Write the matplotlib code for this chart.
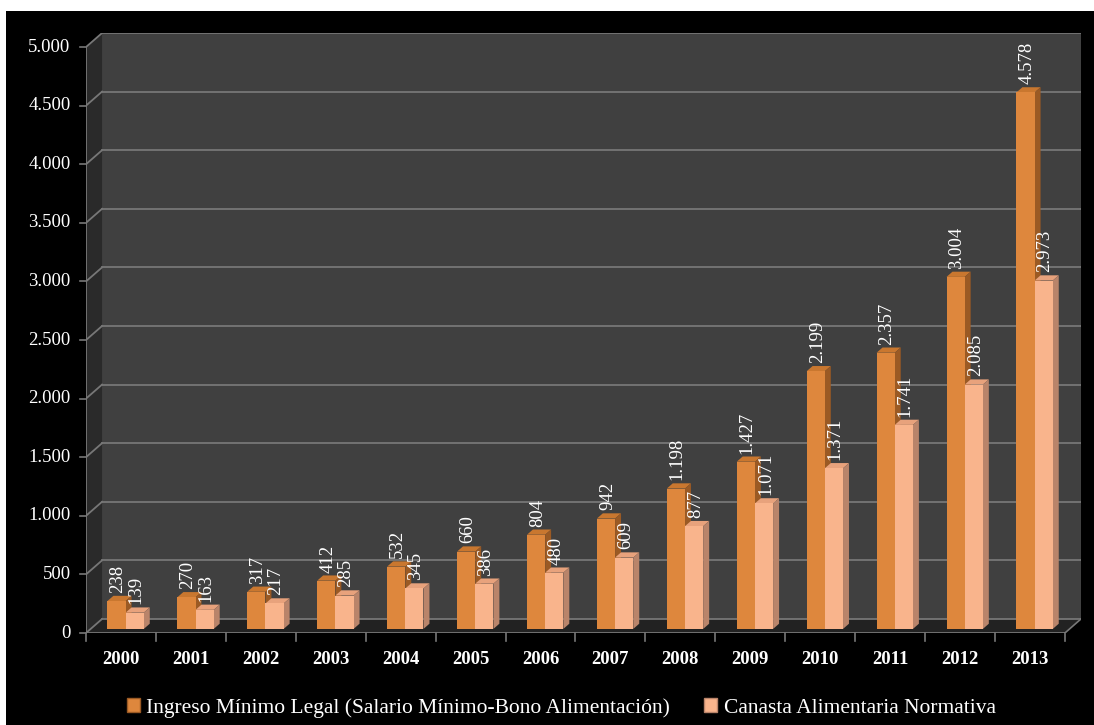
import matplotlib
matplotlib.use('Agg')
import matplotlib.pyplot as plt
from matplotlib.patches import Polygon, Rectangle, Patch
import numpy as np

plt.rcParams['font.family'] = ['Liberation Serif', 'DejaVu Serif']

# data
years = ['2000', '2001', '2002', '2003', '2004', '2005', '2006',
         '2007', '2008', '2009', '2010', '2011', '2012', '2013']
ingreso = [238, 270, 317, 412, 532, 660, 804, 942, 1198, 1427, 2199, 2357, 3004, 4578]
canasta = [139, 163, 217, 285, 345, 386, 480, 609, 877, 1071, 1371, 1741, 2085, 2973]
yticks = list(range(0, 5001, 500))
series_names = ['Ingreso Mínimo Legal (Salario Mínimo-Bono Alimentación)',
                'Canasta Alimentaria Normativa']

# colours
c_or = '#DE873D'
c_or_top = '#C9772F'
c_or_side = '#9B5A24'
c_pe = '#F9B48C'
c_pe_top = '#E8A27C'
c_pe_side = '#B9846A'


def fmt(v):
    return f'{v:,}'.replace(',', '.')


fig = plt.figure(figsize=(10.94, 7.25), dpi=100, facecolor='white')
fig.patches.append(Rectangle((6 / 1094, 0), 1, 1 - 11 / 725, transform=fig.transFigure,
                             facecolor='black', edgecolor='none', zorder=-10))

n = len(years)
ymax = 5000
dx = 0.23     # depth offset in x units
dy = 120      # depth offset in y units

ax = fig.add_axes([86 / 1094, 1 - 633 / 725, 995 / 1094, 600 / 725])
ax.set_xlim(0, n + dx)
ax.set_ylim(0, ymax + dy)
ax.axis('off')

# walls
ax.add_patch(Polygon([(dx, dy), (n + dx, dy), (n + dx, ymax + dy), (dx, ymax + dy)],
                     closed=True, facecolor='#404040', edgecolor='none', zorder=1))
ax.add_patch(Polygon([(0, 0), (dx, dy), (dx, ymax + dy), (0, ymax)],
                     closed=True, facecolor='#2a2a2a', edgecolor='none', zorder=1))
ax.add_patch(Polygon([(0, 0), (n, 0), (n + dx, dy), (dx, dy)],
                     closed=True, facecolor='#222222', edgecolor='none', zorder=1))

grid_c = '#777777'
for v in yticks:
    ax.plot([dx, n + dx], [v + dy, v + dy], color=grid_c, lw=1.3, zorder=2)
    ax.plot([0, dx], [v, v + dy], color=grid_c, lw=1.3, zorder=2)
    ax.plot([-0.08, 0], [v, v], color=grid_c, lw=1.2, zorder=2, clip_on=False)
    ax.text(-0.22, v, fmt(v), color='white', fontsize=13.5, ha='right', va='center')
ax.plot([n, n + dx], [0, dy], color=grid_c, lw=1.2, zorder=2)

# front axes
ax.plot([0, 0], [0, ymax], color=grid_c, lw=1.3, zorder=6)
ax.plot([0, n], [0, 0], color=grid_c, lw=1.3, zorder=6)
for i in range(n + 1):
    ax.plot([i, i], [0, -70], color=grid_c, lw=1.2, zorder=6, clip_on=False)
for i, yr in enumerate(years):
    ax.text(i + 0.5, -230, yr, color='white', fontsize=13.5, fontweight='bold',
            ha='center', va='center')

# bars with 3D effect
w = 0.26
s0 = 0.29
sx, sy = s0 * dx, s0 * dy
bdx, bdy = 0.37 * dx, 0.37 * dy
x = np.arange(n) + 0.5 + sx

for vals, off, cf, ct, cs in [(ingreso, -w / 2, c_or, c_or_top, c_or_side),
                              (canasta, w / 2, c_pe, c_pe_top, c_pe_side)]:
    xs = x + off
    ax.bar(xs, vals, width=w, bottom=sy, color=cf, edgecolor='none', zorder=4)
    for xc, v in zip(xs, vals):
        x0, x1 = xc - w / 2, xc + w / 2
        top = v + sy
        ax.add_patch(Polygon([(x0, top), (x0 + bdx, top + bdy), (x1 + bdx, top + bdy), (x1, top)],
                             closed=True, facecolor=ct, edgecolor='none', zorder=3))
        ax.add_patch(Polygon([(x1, sy), (x1 + bdx, sy + bdy), (x1 + bdx, top + bdy), (x1, top)],
                             closed=True, facecolor=cs, edgecolor='none', zorder=3))
        ax.text(xc + 0.02, top + bdy + 25, fmt(v), color='white', fontsize=13.5,
                rotation=90, ha='center', va='bottom', zorder=7)

# legend
handles = [Patch(facecolor=c_or, edgecolor=c_or_side),
           Patch(facecolor=c_pe, edgecolor=c_pe_side)]
leg = fig.legend(handles, series_names, loc='center', bbox_to_anchor=(0.513, 1 - 708 / 725),
                 ncol=2, frameon=False, fontsize=15.5, handlelength=0.6, handleheight=0.6,
                 handletextpad=0.3, columnspacing=1.6)
for t in leg.get_texts():
    t.set_color('white')

fig.savefig('out.png', dpi=100, facecolor=fig.get_facecolor())
